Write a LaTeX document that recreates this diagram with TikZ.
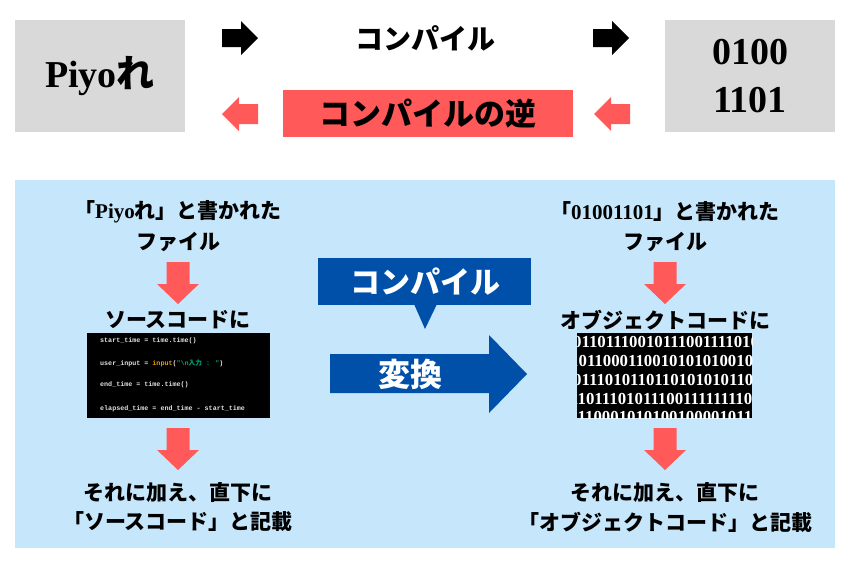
\documentclass[tikz,border=0pt]{standalone}
\usepackage{fontspec}
\setmainfont{Liberation Serif}
\newfontfamily\jp{Noto Sans CJK JP}
\newfontfamily\codefont{Liberation Mono}
\definecolor{boxgray}{RGB}{217,217,217}
\definecolor{arrred}{RGB}{255,89,89}
\definecolor{panelblue}{RGB}{198,231,251}
\definecolor{darkblue}{RGB}{0,80,170}
\definecolor{codegray}{RGB}{225,225,225}
\definecolor{codeorange}{RGB}{230,160,0}
\definecolor{codegreen}{RGB}{0,160,120}

\tikzset{
  lbl/.style = {inner sep=0pt, font=\jp\bfseries\fontsize{21}{25}\selectfont},
  big/.style = {inner sep=0pt, font=\bfseries\fontsize{38}{48}\selectfont, align=center},
  codeln/.style = {inner sep=0pt, anchor=west, text=codegray, font=\codefont\bfseries\fontsize{6.7}{8}\selectfont},
  bits/.style = {inner sep=0pt, anchor=west, text=white, font=\bfseries\fontsize{16.8}{18}\selectfont},
  rarrow/.pic = {\path[pic actions] (-18,-9) -- (1,-9) -- (1,-17) -- (18,0) -- (1,17) -- (1,9) -- (-18,9) -- cycle;},
  larrow/.pic = {\path[pic actions] (18,-10) -- (-1,-10) -- (-1,-17) -- (-18,0) -- (-1,17) -- (-1,10) -- (18,10) -- cycle;},
  darrow/.pic = {\path[pic actions] (-11.5,0) -- (11.5,0) -- (11.5,22) -- (21,22) -- (0,42) -- (-21,22) -- (-11.5,22) -- cycle;}
}

\begin{document}
\begin{tikzpicture}[x=1pt, y=-1pt]
  \useasboundingbox[fill=white] (0,0) rectangle (850,566);

  % top row
  \node[fill=boxgray, minimum width=170pt, minimum height=112pt, inner sep=0pt] (src) at (100,76) {};
  \node[big] (piyo) at (src) {Piyo{\jp れ}};
  \node[fill=boxgray, minimum width=170pt, minimum height=112pt, inner sep=0pt] (obj) at (750,76) {};
  \node[big] (bin) at (obj) {0100\\1101};

  \node[lbl, font=\jp\bfseries\fontsize{28}{32}\selectfont] (comp) at (425,38) {コンパイル};
  \pic[fill=black] at (240,38) {rarrow};
  \pic[fill=black] at (611,38) {rarrow};

  \node[fill=arrred, minimum width=290pt, minimum height=47pt, inner sep=0pt] (rev) at (428,113.5) {};
  \node[lbl, font=\jp\bfseries\fontsize{31}{35}\selectfont] (revtxt) at (rev) {コンパイルの逆};
  \pic[fill=arrred] at (240,114) {larrow};
  \pic[fill=arrred] at (612,114) {larrow};

  % bottom panel
  \fill[panelblue] (15,180) rectangle (835,548);

  % left column
  \node[lbl] (l1) at (178,212) {「{\rmfamily Piyo}れ」と書かれた};
  \node[lbl] (l2) at (178,242) {ファイル};
  \pic[fill=arrred] at (178,262) {darrow};
  \node[lbl] (l3) at (178,320) {ソースコードに};
  \node[fill=black, minimum width=183pt, minimum height=85pt, inner sep=0pt] (code) at (178.5,375.5) {};
  \node[codeln] (c1) at (100,341) {start\_time = time.time()};
  \node[codeln] (c2) at (100,363) {user\_input = {\color{codeorange}input}(\textcolor{codegreen}{"\textbackslash n{\jp 入力} : "})};
  \node[codeln] (c3) at (100,385) {end\_time = time.time()};
  \node[codeln] (c4) at (100,409) {elapsed\_time = end\_time - start\_time};
  \pic[fill=arrred] at (178,428) {darrow};
  \node[lbl] (l4) at (178,492) {それに加え、直下に};
  \node[lbl] (l5) at (178,522) {「ソースコード」と記載};

  % right column
  \node[lbl] (r1) at (665,212) {「{\rmfamily 01001101}」と書かれた};
  \node[lbl] (r2) at (665,242) {ファイル};
  \pic[fill=arrred] at (665,262) {darrow};
  \node[lbl] (r3) at (665,320) {オブジェクトコードに};
  \node[fill=black, minimum width=175pt, minimum height=85pt, inner sep=0pt] (objcode) at (664.5,375.5) {};
  \begin{scope}
    \clip (577,333) rectangle (752,418);
    \node[bits] (b1) at (573,342) {01101110010111001111010};
    \node[bits] (b2) at (570,361) {101100011001010101001010};
    \node[bits] (b3) at (573,380) {0111010110110101010110110};
    \node[bits] (b4) at (570,399) {1101110101110011111111010};
    \node[bits] (b5) at (570,417) {11100010101001000010111};
  \end{scope}
  \pic[fill=arrred] at (665,428) {darrow};
  \node[lbl] (r4) at (665,492) {それに加え、直下に};
  \node[lbl] (r5) at (665,522) {「オブジェクトコード」と記載};

  % middle: callout and big arrow
  \fill[darkblue] (318,258) rectangle (531,305);
  \fill[darkblue] (414,304) -- (437,304) -- (425,329) -- cycle;
  \node[lbl, text=white, font=\jp\bfseries\fontsize{30}{34}\selectfont] (callout) at (425,282) {コンパイル};
  \fill[darkblue] (330,354) -- (489,354) -- (489,335) -- (527,374) -- (489,413) -- (489,393) -- (330,393) -- cycle;
  \node[lbl, text=white, font=\jp\bfseries\fontsize{32}{36}\selectfont] (conv) at (410,374) {変換};
\end{tikzpicture}
\end{document}
